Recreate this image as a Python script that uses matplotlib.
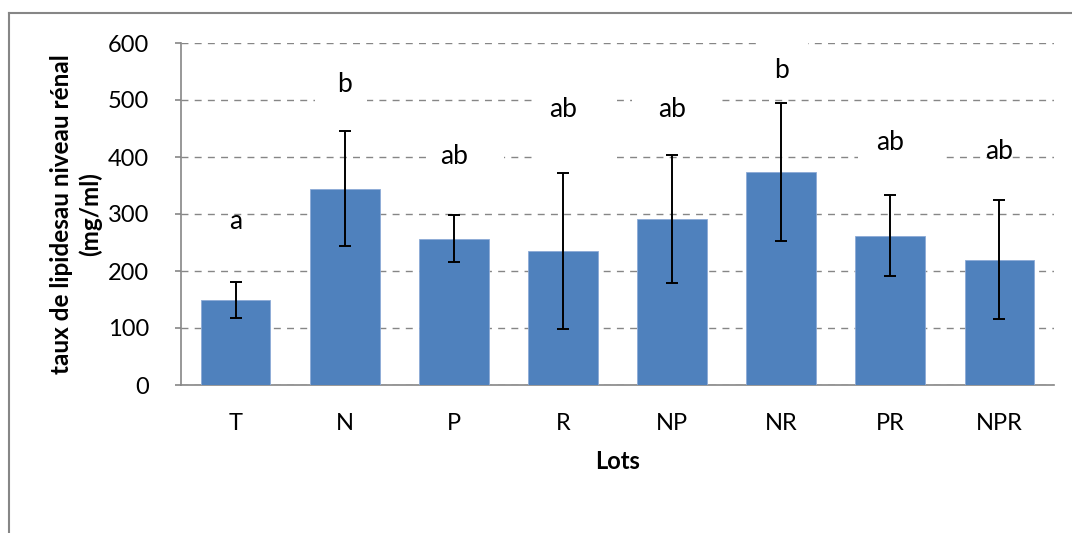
import matplotlib
matplotlib.use("Agg")
import matplotlib.pyplot as plt
from matplotlib.patches import Rectangle
from matplotlib.lines import Line2D

plt.rcParams['font.family'] = ['Lato', 'DejaVu Sans']

lots = ['T', 'N', 'P', 'R', 'NP', 'NR', 'PR', 'NPR']
taux = [149, 344, 257, 235, 291, 374, 262, 220]
erreur = [32, 101, 42, 137, 112, 121, 71, 105]
lettres = ['a', 'b', 'ab', 'ab', 'ab', 'b', 'ab', 'ab']
lettre_y = [287, 528, 400, 484, 484, 552, 426, 410]

# white label boxes hiding the grid (x0, x1 in category units, y0, y1 in data)
boites = {1: (0.73, 1.20, 480, 575), 2: (1.78, 2.46, 380, 420),
          3: (2.72, 3.50, 390, 510), 4: (3.63, 4.44, 460, 520),
          5: (4.78, 5.25, 540, 610), 6: (5.70, 6.51, 380, 440)}

gris = '#868686'
bleu = '#4F81BD'

fig = plt.figure(figsize=(10.72, 5.33), dpi=100)
ax = fig.add_axes([181 / 1072, 1 - 385 / 533, 873 / 1072, 342 / 533])

x = range(len(lots))
ax.bar(x, taux, width=0.64, color=bleu, edgecolor='#8CAAD6', linewidth=0.6, zorder=3)
ax.errorbar(x, taux, yerr=erreur, fmt='none', ecolor='black', elinewidth=1.4,
            capsize=4.5, capthick=1.4, zorder=4)

for i, (x0, x1, y0, y1) in boites.items():
    ax.add_patch(Rectangle((x0, y0), x1 - x0, y1 - y0, facecolor='white',
                           edgecolor='none', zorder=2))
for i, (l, ly) in enumerate(zip(lettres, lettre_y)):
    ax.text(i, ly, l, ha='center', va='center', fontsize=19, zorder=5)

ax.set_xlim(-0.5, len(lots) - 0.5)
ax.set_ylim(0, 600)
ax.set_yticks(range(0, 601, 100))
ax.set_xticks(list(x))
ax.set_xticklabels(lots)
ax.yaxis.grid(True, color=gris, linestyle=(0, (5.0, 4.5)), linewidth=1.0, zorder=1)
ax.set_axisbelow(True)

for s in ['top', 'right']:
    ax.spines[s].set_visible(False)
for s in ['left', 'bottom']:
    ax.spines[s].set_color(gris)
    ax.spines[s].set_linewidth(1.2)
ax.tick_params(axis='y', length=4, color=gris, width=1.2, pad=19, labelsize=17)
ax.tick_params(axis='x', length=0, pad=20, labelsize=17)

ax.set_ylabel('taux de lipidesau niveau rénal\n(mg/ml)', fontsize=17.5,
              fontweight='bold', labelpad=4, linespacing=1.3)
ax.set_xlabel('Lots', fontsize=17, fontweight='bold', labelpad=12)

# chart area frame (left and top edges visible)
fig.add_artist(Line2D([8.5 / 1072, 8.5 / 1072], [0, 1 - 13 / 533],
                      color=gris, linewidth=1.5))
fig.add_artist(Line2D([8.5 / 1072, 1], [1 - 13 / 533, 1 - 13 / 533],
                      color=gris, linewidth=1.5))

fig.savefig('out.png', dpi=100)
